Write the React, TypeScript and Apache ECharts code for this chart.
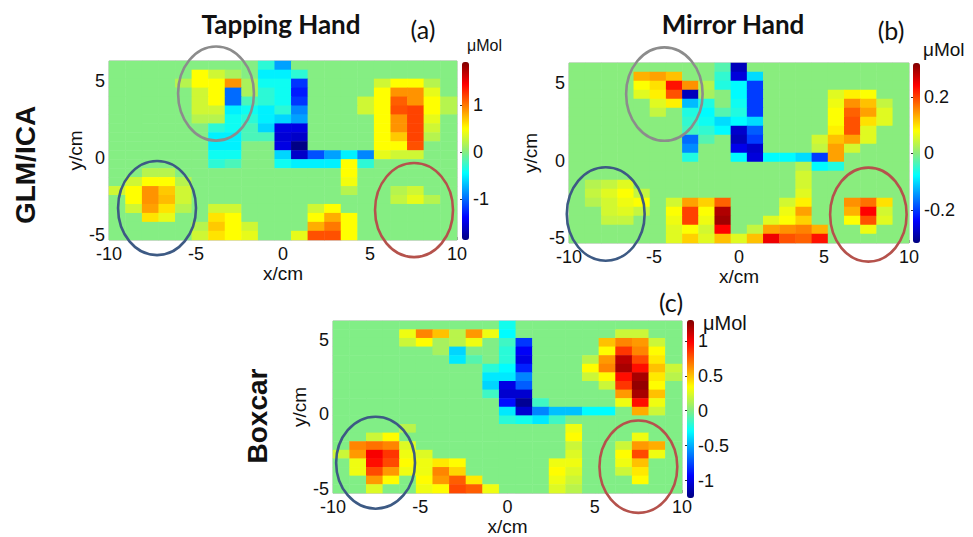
import React, { useEffect, useRef } from "react";
import * as echarts from "echarts";

// ---------- data (µMol), rows from top (y≈6 cm) to bottom (y≈-5 cm), 21 columns from x=-10 to x=10 ----------
const tappingHand: number[][] = [
  [0,0,0,0,0,0,0,0,0,-0.3,-0.8,0,0,0,0,0,0,0,0,0,0],
  [0,0,0,0,0,0.5,0.3,0.15,0,-0.5,-0.5,-0.3,0,0,0,0,0,0,0,0,0],
  [0,0,0,0,0.2,0.5,0.5,0.9,0.15,-0.4,-0.4,-1.2,0,0,0,0,0.3,0.5,0.5,0.2,0],
  [0,0,0,0,0,0.3,0.5,-1.0,0.15,-0.3,-0.4,-1.3,0,0,0,0,0.5,0.9,0.9,0.4,0],
  [0,0,0,0,0,0.3,0.5,-1.0,-0.2,-0.3,-0.4,-1.2,0,0,0,0.3,0.5,1.1,0.9,0.5,0.2],
  [0,0,0,0,0,0.3,0.3,-0.5,-0.4,-0.5,-0.3,-0.9,0,0,0,0.3,0.5,1.15,1.2,0.5,0.2],
  [0,0,0,0,0,0.2,0.2,-0.4,-0.3,-0.5,-0.6,-0.8,0,0,0,0,0.5,0.9,1.2,0.4,0],
  [0,0,0,0,0,0,-0.3,-0.4,-0.2,-0.6,-1.5,-1.5,0,0,0,0,0.5,0.9,1.2,0.3,0],
  [0,0,0,0,0,0,-0.5,-0.5,-0.2,-0.2,-1.55,-1.6,0,0,0,0,0.5,0.7,1.2,0.2,0],
  [0,0,0,0,0,0,-0.5,-0.5,0,0,-1.5,-1.85,0,0,0,0,0.5,0.5,1.15,0,0],
  [0,0,0,0,0,0,-0.4,-0.4,0,0,-0.6,-1.6,-1.1,-0.8,-0.5,-0.9,0.4,0.3,0.3,0,0],
  [0,0,0,0,0,0,-0.3,-0.2,0,0,-0.4,-0.5,-0.5,-0.5,0.5,-0.3,0,0,0,0,0],
  [0,0,0.2,0.2,0,0,0,0,0,0,0,0,0,0,0.5,0,0,0,0,0,0],
  [0,0.3,0.5,0.5,0.2,0,0,0,0,0,0,0,0,0,0.45,0,0,0,0,0,0],
  [0.3,0.5,0.9,0.7,0.3,0,0,0,0,0,0,0,0,0,0.2,0,0,0.2,0.3,0,0],
  [0,0.5,0.9,0.75,0.3,0,0,0,0,0,0,0,0,0,0,0,0,0.25,0.4,0.2,0],
  [0,0.3,0.85,0.6,0.2,0,0.3,0.3,0,0,0,0,0.3,0.5,0,0,0,0,0,0,0],
  [0,0,0.6,0.4,0,0,0.6,0.5,0,0,0,0,0.5,0.8,0.5,0,0,0,0,0,0],
  [0,0,0,0,0,0.2,0.7,0.5,0.3,0,0,0,0.8,1.0,0.5,0,0,0,0,0,0],
  [0,0,0,0,0,0.3,0.6,0.5,0.4,0,0,0.4,1.15,1.15,0.5,0,0,0,0,0,0],
];

const mirrorHand: number[][] = [
  [0,0,0,0,0,0,0,0,0,-0.03,-0.28,0,0,0,0,0,0,0,0,0,0],
  [0,0,0,0,0.13,0.14,0.12,0,0,-0.05,-0.26,-0.1,0,0,0,0,0,0,0,0,0],
  [0,0,0,0,0.08,0.1,0.23,0.15,0.03,-0.06,-0.08,-0.2,0,0,0,0,0,0,0,0,0],
  [0,0,0,0,0.06,0.09,0.19,-0.28,0.02,0,-0.08,-0.2,0,0,0,0,0.06,0.09,0.08,0,0],
  [0,0,0,0,0,0.06,0.09,-0.12,-0.06,0,-0.07,-0.2,0,0,0,0,0.07,0.15,0.12,0.04,0],
  [0,0,0,0,0,0.04,0,-0.06,-0.08,-0.03,-0.06,-0.2,0,0,0,0,0.08,0.18,0.14,0.06,0],
  [0,0,0,0,0,0,0,-0.05,-0.07,-0.1,-0.08,-0.1,0,0,0,0,0.08,0.19,0.1,0.06,0],
  [0,0,0,0,0,0,0,-0.04,-0.05,-0.08,-0.27,-0.18,0,0,0,0,0.09,0.19,0.06,0,0],
  [0,0,0,0,0,0,0,-0.17,-0.03,0,-0.28,-0.2,0,0,0,0.05,0.12,0.14,0.06,0,0],
  [0,0,0,0,0,0,0,-0.15,0,0,-0.25,-0.27,0,0,0,0.04,0.14,0.05,0,0,0],
  [0,0,0,0,0,0,0,-0.06,0,0,-0.08,-0.26,-0.08,-0.08,-0.1,-0.2,0.14,0,0,0,0],
  [0,0,0,0,0,0,0,0,0,0,0,0,0,0,0.03,-0.08,-0.06,0,0,0,0],
  [0,0,0,0,0,0,0,0,0,0,0,0,0,0,0.05,0,0,0,0,0,0],
  [0,0.03,0.04,0.06,0,0,0,0,0,0,0,0,0,0,0.05,0,0,0,0,0,0],
  [0,0.04,0.06,0.08,0.04,0,0,0,0,0,0,0,0,0,0.06,0,0,0,0,0,0],
  [0,0.03,0.05,0.07,0.08,0,0.05,0.14,0.11,0.18,0,0,0,0.05,0.09,0,0,0.15,0.17,0.1,0],
  [0,0,0.05,0.06,0.04,0,0.08,0.2,0.08,0.29,0,0,0,0.07,0.14,0,0,0.13,0.24,0.05,0],
  [0,0,0.04,0.04,0,0,0.07,0.2,0.07,0.3,0,0,0.06,0.08,0.11,0,0,0.08,0.19,0.06,0],
  [0,0,0,0,0,0,0.06,0.08,0.05,0.24,0,0.04,0.14,0.15,0.16,0.13,0,0,0.07,0,0],
  [0,0,0,0,0,0,0.06,0.11,0.06,0.12,0.06,0.12,0.25,0.19,0.18,0.23,0,0,0,0,0],
];

const boxcar: number[][] = [
  [0,0,0,0,0,0,0,0,0,0,-0.25,0,0,0,0,0,0,0,0,0,0],
  [0,0,0,0,0.3,0.65,0.5,0.15,0.6,0.3,-0.3,0,0,0,0,0,0,0.2,0.2,0,0],
  [0,0,0,0,0.2,0.35,0.1,0.15,0.3,0,-0.15,-0.8,0,0,0,0,0.5,0.65,0.6,0.2,0],
  [0,0,0,0,0,0,0.1,-0.4,0,0,-0.2,-0.95,0,0,0,0,0.35,0.85,0.65,0.35,0],
  [0,0,0,0,0,0,0,-0.35,-0.1,0,-0.2,-1.0,0,0,0,0.15,0.6,1.15,0.8,0.4,0],
  [0,0,0,0,0,0,0,0,0,-0.2,-0.3,-0.85,0,0,0,0.35,0.65,1.2,0.95,0.5,0.2],
  [0,0,0,0,0,0,0,0,0,-0.35,-0.35,-0.6,0,0,0,0.2,0.35,0.95,1.2,0.4,0.15],
  [0,0,0,0,0,0,0,0,0,-0.4,-1.0,-0.7,0,0,0,0,0.2,0.85,1.25,0.35,0],
  [0,0,0,0,0,0,0,0,0,-0.15,-1.05,-1.05,0,0,0,0,0,0.6,1.2,0.5,0],
  [0,0,0,0,0,0,0,0,0,0,-0.9,-1.2,-0.15,0,0,0,0,0.3,0.95,0.3,0],
  [0,0,0,0,0,0,0,0,0,0,-0.35,-1.05,-0.6,-0.45,-0.45,-0.3,-0.3,0,0.55,0.2,0],
  [0,0,0,0,0,0,0,0,0,0,-0.2,-0.25,-0.35,-0.15,0,0,0,0,0,0,0],
  [0,0,0,0,0.15,0,0,0,0,0,0,0,0,0,0.3,0,0,0,0,0,0],
  [0,0,0.2,0.35,0,0,0,0,0,0,0,0,0,0,0.35,0,0,0,0.3,0,0],
  [0,0.65,0.7,0.65,0.25,0,0,0,0,0,0,0,0,0,0.2,0,0,0.2,0.6,0.55,0],
  [0.2,0.6,1.0,0.85,0.3,0.25,0,0,0,0,0,0,0,0,0.25,0,0,0.35,0.8,0.3,0],
  [0,0.3,0.95,0.8,0.35,0.3,0.4,0.35,0,0,0,0,0,0.3,0.3,0,0,0.3,0.5,0,0],
  [0,0.3,0.8,0.6,0.3,0.3,0.65,0.45,0,0,0,0,0,0.35,0.25,0,0,0.2,0.4,0,0],
  [0,0,0.6,0.35,0,0.35,0.6,0.75,0.4,0,0,0,0,0.3,0.2,0,0,0,0.35,0,0],
  [0,0,0.25,0,0,0.3,0.35,0.8,0.75,0.3,0,0,0,0.25,0.15,0,0,0,0,0,0],
];

// colour-bar ranges and tick labels
const rangeA = [-1.87, 1.92];
const rangeB = [-0.317, 0.32];
const rangeC = [-1.25, 1.3];
const cbTicksA = [-1, 0, 1];
const cbTicksB = [-0.2, 0, 0.2];
const cbTicksC = [-1, -0.5, 0, 0.5, 1];

// spatial axes (cm)
const xRange = [-10, 10];
const yRange = [-5.3, 6.3];
const yTicks = [-5, 0, 5];

// highlighted regions: [centre x, centre y, radius x, radius y] in cm
const ellipsesA = [
  [-3.85, 4.19, 2.18, 3.05],
  [-7.24, -3.23, 2.24, 3.05],
  [7.53, -3.36, 2.24, 3.05],
];
const ellipseColorsA = ["#8c8c8c", "#3d5a84", "#b5524c"];
const ellipsesB = [
  [-4.39, 4.3, 2.25, 3.01],
  [-7.84, -3.43, 2.29, 3.01],
  [7.61, -3.47, 2.25, 3.03],
];
const ellipseColorsB = ["#8c8c8c", "#3d5a84", "#b5524c"];
const ellipsesC = [
  [-7.56, -3.25, 2.26, 3.1],
  [7.5, -3.52, 2.23, 3.11],
];
const ellipseColorsC = ["#3d5a84", "#b5524c"];

const JET = ["#000080", "#0000ff", "#0080ff", "#00ffff", "#8ced7c", "#ffff00", "#ff8000", "#ff0000", "#800000"];

const TICK_FONT = "Liberation Sans";

const panels = [
  {
    data: tappingHand, range: rangeA, cbTicks: cbTicksA, ellipses: ellipsesA, eColors: ellipseColorsA,
    grid: { left: 109, top: 61, width: 348, height: 179 },
    cb: { left: 462, top: 62, width: 7, height: 178 },
    yNameGap: 23, xNameGap: 18,
  },
  {
    data: mirrorHand, range: rangeB, cbTicks: cbTicksB, ellipses: ellipsesB, eColors: ellipseColorsB,
    grid: { left: 569, top: 63, width: 340, height: 180 },
    cb: { left: 913, top: 63, width: 7, height: 180 },
    yNameGap: 29, xNameGap: 19,
  },
  {
    data: boxcar, range: rangeC, cbTicks: cbTicksC, ellipses: ellipsesC, eColors: ellipseColorsC,
    grid: { left: 333, top: 321, width: 349, height: 178 },
    cb: { left: 687, top: 320, width: 7, height: 178 },
    yNameGap: 22, xNameGap: 20,
  },
];

function buildOption() {
  const nCols = panels[0].data[0].length;
  const nRows = panels[0].data.length;
  const colCats = Array.from({ length: nCols }, (_, i) => String(i));
  const rowCats = Array.from({ length: nRows }, (_, i) => String(i));

  const grid: any[] = [];
  const xAxis: any[] = [];
  const yAxis: any[] = [];
  const series: any[] = [];
  const visualMap: any[] = [];

  panels.forEach((p) => {
    grid.push({ ...p.grid, show: true, borderColor: "#b0b0b0", borderWidth: 1, backgroundColor: "transparent", containLabel: false });
  });
  panels.forEach((p) => {
    grid.push({ ...p.cb, show: false, containLabel: false });
  });

  const labelStyle = { fontSize: 18, color: "#111", fontFamily: TICK_FONT };
  const nameStyle = { fontSize: 19, color: "#111", fontFamily: TICK_FONT };

  panels.forEach((p, i) => {
    xAxis.push({ type: "category", gridIndex: i, data: colCats, show: false, boundaryGap: true });
    xAxis.push({
      type: "value", gridIndex: i, min: xRange[0], max: xRange[1], interval: 5, position: "bottom",
      axisLine: { show: false },
      axisTick: { show: true, inside: true, length: 3, lineStyle: { color: "#999" } },
      axisLabel: { ...labelStyle, margin: 5, showMinLabel: true, showMaxLabel: true },
      splitLine: { show: false },
      name: "x/cm", nameLocation: "middle", nameGap: p.xNameGap, nameTextStyle: nameStyle,
    });
    yAxis.push({ type: "category", gridIndex: i, data: rowCats, show: false, inverse: true, boundaryGap: true });
    yAxis.push({
      type: "value", gridIndex: i, min: yRange[0], max: yRange[1], position: "left",
      axisLine: { show: false },
      axisTick: { show: true, inside: true, length: 3, lineStyle: { color: "#999" }, customValues: yTicks },
      axisLabel: { ...labelStyle, margin: 4, customValues: yTicks },
      splitLine: { show: false },
      name: "y/cm", nameLocation: "middle", nameGap: p.yNameGap, nameTextStyle: nameStyle,
    });
  });
  panels.forEach((p, i) => {
    xAxis.push({ type: "value", gridIndex: 3 + i, show: false, min: 0, max: 1 });
    yAxis.push({
      type: "value", gridIndex: 3 + i, min: p.range[0], max: p.range[1], position: "right",
      axisLine: { show: false },
      axisTick: { show: true, inside: true, length: 2, lineStyle: { color: "#333" }, customValues: p.cbTicks },
      axisLabel: { ...labelStyle, margin: 4, customValues: p.cbTicks },
      splitLine: { show: false },
    });
  });

  panels.forEach((p, i) => {
    const cells: number[][] = [];
    p.data.forEach((row, r) => row.forEach((v, c) => cells.push([c, r, v])));
    series.push({
      type: "heatmap", xAxisIndex: 2 * i, yAxisIndex: 2 * i, data: cells,
      itemStyle: { borderWidth: 0 }, emphasis: { disabled: true }, silent: true, progressive: 0,
    });
    visualMap.push({
      type: "continuous", seriesIndex: i, min: p.range[0], max: p.range[1], calculable: false, hoverLink: false,
      orient: "vertical", left: p.cb.left, top: p.cb.top, itemWidth: p.cb.width, itemHeight: p.cb.height,
      padding: 0, inRange: { color: JET },
    });
  });
  panels.forEach((p, i) => {
    const colors = p.eColors;
    series.push({
      type: "custom", xAxisIndex: 2 * i + 1, yAxisIndex: 2 * i + 1, clip: false, silent: true, z: 10,
      data: p.ellipses,
      renderItem: (params: any, api: any) => {
        const c = api.coord([api.value(0), api.value(1)]);
        const s = api.size([api.value(2), api.value(3)]);
        return {
          type: "ellipse",
          shape: { cx: c[0], cy: c[1], rx: s[0], ry: s[1] },
          style: { fill: "none", stroke: colors[params.dataIndex], lineWidth: 2.6 },
        };
      },
    });
  });

  const titleFont = "bold 26px Lato";
  const tagFont = "25px Lato";
  const rowFont = "bold 28px 'Liberation Sans'";
  const graphic: any[] = [
    { type: "text", x: 281, y: 24, style: { text: "Tapping Hand", font: titleFont, fill: "#111", align: "center", verticalAlign: "middle" } },
    { type: "text", x: 733, y: 24, style: { text: "Mirror Hand", font: titleFont, fill: "#111", align: "center", verticalAlign: "middle" } },
    { type: "text", x: 423, y: 29, style: { text: "(a)", font: tagFont, fill: "#111", align: "center", verticalAlign: "middle" } },
    { type: "text", x: 891, y: 30, style: { text: "(b)", font: tagFont, fill: "#111", align: "center", verticalAlign: "middle" } },
    { type: "text", x: 671, y: 302, style: { text: "(c)", font: tagFont, fill: "#111", align: "center", verticalAlign: "middle" } },
    { type: "text", x: 467, y: 45, style: { text: "μMol", font: "16px 'Liberation Sans'", fill: "#111", align: "left", verticalAlign: "middle" } },
    { type: "text", x: 923, y: 49, style: { text: "μMol", font: "19px 'Liberation Sans'", fill: "#111", align: "left", verticalAlign: "middle" } },
    { type: "text", x: 703, y: 323, style: { text: "μMol", font: "20px 'Liberation Sans'", fill: "#111", align: "left", verticalAlign: "middle" } },
    { type: "text", x: 25, y: 165, rotation: Math.PI / 2, style: { text: "GLM/ICA", font: rowFont, fill: "#111", align: "center", verticalAlign: "middle" } },
    { type: "text", x: 257, y: 416, rotation: Math.PI / 2, style: { text: "Boxcar", font: rowFont, fill: "#111", align: "center", verticalAlign: "middle" } },
  ];

  return { animation: false, backgroundColor: "#ffffff", grid, xAxis, yAxis, series, visualMap, graphic };
}

export default function App() {
  const ref = useRef<HTMLDivElement>(null);
  useEffect(() => {
    if (!ref.current) return;
    const chart = echarts.init(ref.current, undefined, { renderer: "svg" });
    chart.setOption(buildOption() as any);
    return () => chart.dispose();
  }, []);
  return (
    <div style={{ position: "fixed", left: 0, top: 0, width: 973, height: 537, background: "#fff" }}>
      <div ref={ref} style={{ width: 973, height: 537 }} />
    </div>
  );
}
